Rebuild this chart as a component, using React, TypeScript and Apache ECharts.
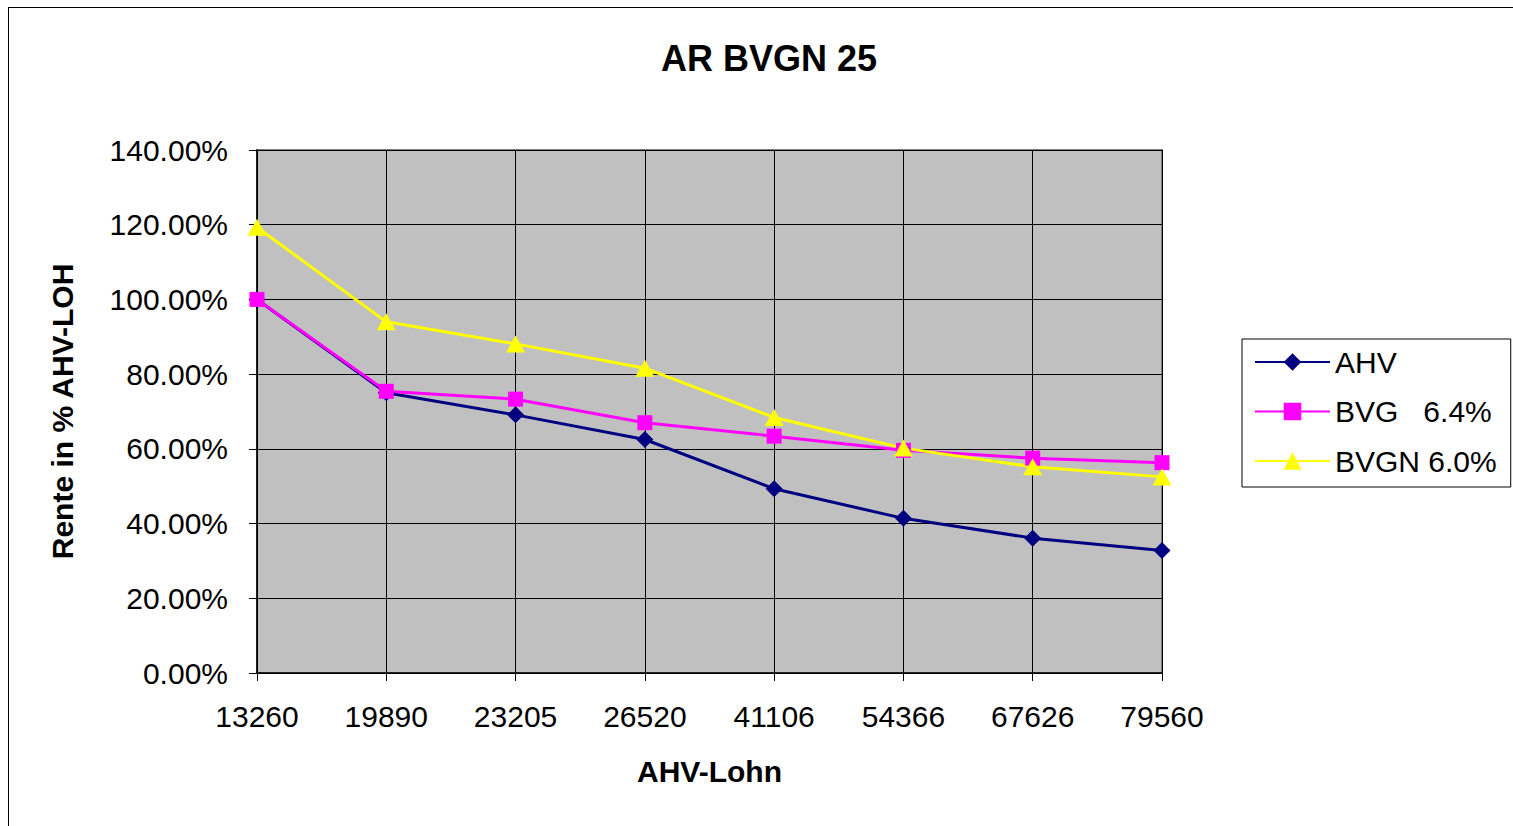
import React, { useEffect, useRef } from "react";
import * as echarts from "echarts";

const categories = ["13260", "19890", "23205", "26520", "41106", "54366", "67626", "79560"];
const ahv = [100, 75.0, 69.1, 62.5, 49.3, 41.4, 36.1, 32.8];
const bvg = [100, 75.4, 73.3, 67.0, 63.4, 59.6, 57.5, 56.3];
const bvgn = [119.3, 94.0, 88.1, 81.6, 68.4, 60.2, 55.2, 52.5];
const seriesNames = ["AHV", "BVG   6.4%", "BVGN 6.0%"];
const titleText = "AR BVGN 25";
const xName = "AHV-Lohn";
const yName = "Rente in % AHV-LOHN";

const FONT = "'Liberation Sans', Arial, sans-serif";

export default function App() {
  const ref = useRef<HTMLDivElement>(null);
  useEffect(() => {
    document.documentElement.style.overflow = "hidden";
    document.body.style.overflow = "hidden";
    const chart = echarts.init(ref.current!, undefined, { renderer: "svg" });
    const lineSeries = (name: string, data: number[], color: string, symbol: string, size: any) => ({
      name,
      type: "line",
      data,
      symbol,
      symbolSize: size,
      lineStyle: { color, width: 3 },
      itemStyle: { color, borderWidth: 0 },
      emphasis: { disabled: true },
    });
    chart.setOption({
      animation: false,
      textStyle: { fontFamily: FONT },
      title: {
        text: titleText,
        left: 755,
        textAlign: "center",
        top: 27,
        textStyle: { fontFamily: FONT, fontWeight: "bold", fontSize: 36, color: "#000" },
      },
      legend: {
        orient: "vertical",
        left: 1233,
        top: 331,
        padding: [8, 14, 11, 12],
        itemWidth: 75,
        itemHeight: 22,
        itemGap: 19.5,
        backgroundColor: "#fff",
        borderColor: "#000",
        borderWidth: 1,
        borderRadius: 0,
        textStyle: { fontFamily: FONT, fontSize: 30, color: "#000", lineHeight: 30 },
        data: seriesNames,
      },
      grid: {
        left: 248,
        right: 351,
        top: 142,
        bottom: 153,
        show: true,
        backgroundColor: "#C0C0C0",
        borderColor: "#808080",
        borderWidth: 2,
      },
      xAxis: {
        type: "category",
        data: categories,
        boundaryGap: false,
        name: xName,
        nameLocation: "middle",
        nameGap: 83,
        nameTextStyle: { fontFamily: FONT, fontWeight: "bold", fontSize: 30, color: "#000" },
        axisLine: { lineStyle: { color: "#000", width: 1.5 } },
        axisTick: { show: true, inside: false, length: 8, lineStyle: { color: "#000" } },
        axisLabel: { fontFamily: FONT, fontSize: 30, color: "#000", margin: 28 },
        splitLine: { show: true, lineStyle: { color: "#000", width: 1 } },
      },
      yAxis: {
        type: "value",
        min: 0,
        max: 140,
        interval: 20,
        name: yName,
        nameLocation: "middle",
        nameGap: 180,
        nameTruncate: { maxWidth: 308, ellipsis: "" },
        nameTextStyle: {
          fontFamily: FONT,
          fontWeight: "bold",
          fontSize: 30,
          color: "#000",
        },
        axisLine: { show: true, lineStyle: { color: "#000", width: 1.5 } },
        axisTick: { show: true, inside: false, length: 8, lineStyle: { color: "#000" } },
        axisLabel: {
          fontFamily: FONT,
          fontSize: 30,
          color: "#000",
          margin: 29,
          formatter: (v: number) => v.toFixed(2) + "%",
        },
        splitLine: { show: true, lineStyle: { color: "#000", width: 1 } },
      },
      series: [
        lineSeries(seriesNames[0], ahv, "#000080", "diamond", [17, 17]),
        lineSeries(seriesNames[1], bvg, "#FF00FF", "rect", [15, 15]),
        lineSeries(seriesNames[2], bvgn, "#FFFF00", "triangle", [19, 17]),
      ],
    });
    return () => chart.dispose();
  }, []);
  return (
    <div
      style={{
        position: "absolute",
        left: 8,
        top: 7,
        width: 1520,
        height: 830,
        border: "1px solid #000",
        boxSizing: "border-box",
        background: "#fff",
      }}
    >
      <div ref={ref} style={{ width: 1504, height: 818 }} />
    </div>
  );
}
